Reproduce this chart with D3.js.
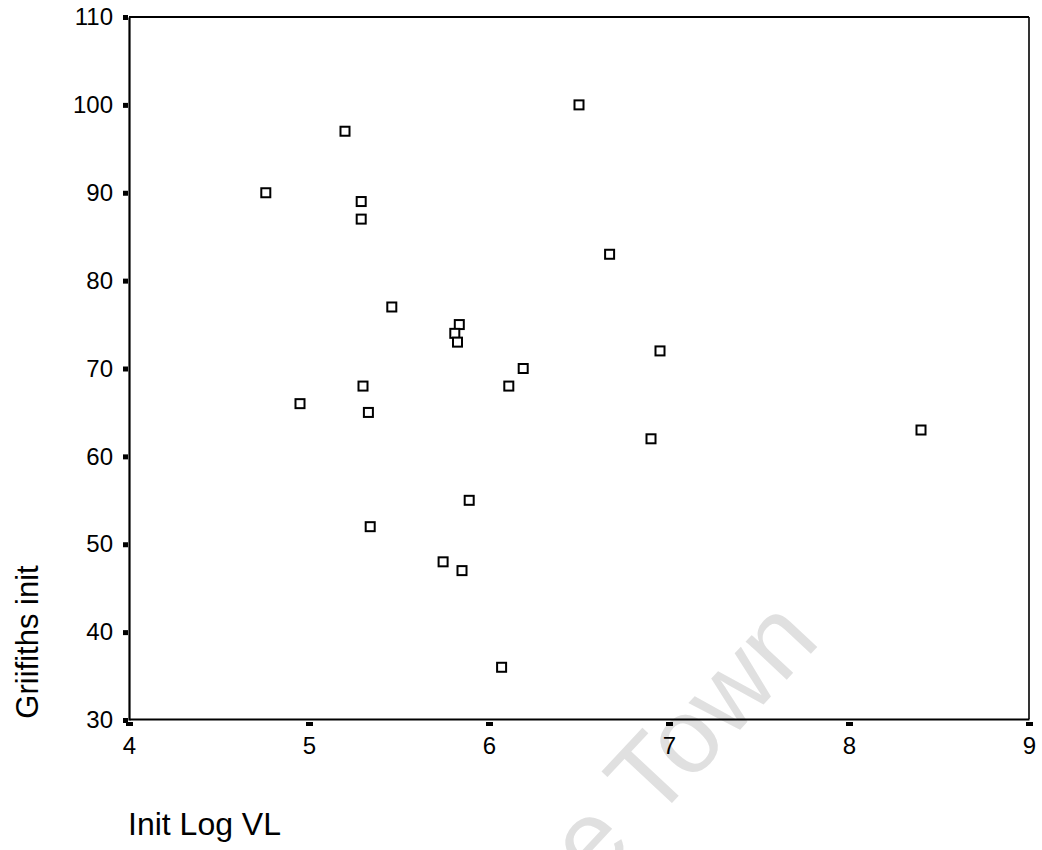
<!DOCTYPE html>
<html>
<head>
<meta charset="utf-8">
<script src="https://cdn.jsdelivr.net/npm/d3@7"></script>
<style>
  html, body { margin: 0; padding: 0; background: #fff; }
  svg { display: block; font-family: "Liberation Sans", Arial, sans-serif; }
</style>
</head>
<body>
<script>
// Data
const initLogVL = [4.76, 5.20, 5.29, 5.29, 4.95, 5.46, 5.30, 5.33, 5.34, 5.835, 5.81, 5.825, 5.89, 5.745, 5.85, 6.07, 6.11, 6.19, 6.50, 6.67, 6.90, 6.95, 8.40];
const griffithsInit = [90, 97, 89, 87, 66, 77, 68, 65, 52, 75, 74, 73, 55, 48, 47, 36, 68, 70, 100, 83, 62, 72, 63];
const xTicks = [4, 5, 6, 7, 8, 9];
const yTicks = [30, 40, 50, 60, 70, 80, 90, 100, 110];
const xLabel = "Init Log VL";
const yLabel = "Griifiths init";
const watermark = "Cape Town";

const W = 1042, H = 850;
const svg = d3.select("body").append("svg").attr("width", W).attr("height", H);

const x = d3.scaleLinear().domain([4, 9]).range([129, 1029]);
const y = d3.scaleLinear().domain([30, 110]).range([720, 17]);

// watermark
svg.append("text")
  .attr("transform", "translate(822,642) rotate(-47)")
  .attr("text-anchor", "end")
  .attr("font-size", 106)
  .attr("fill", "#e0e0e0")
  .text(watermark);

// frame (top and right)
svg.append("line").attr("x1", x(4)).attr("x2", x(9)).attr("y1", y(110)).attr("y2", y(110))
  .attr("stroke", "#000").attr("stroke-width", 2);
svg.append("line").attr("x1", x(9)).attr("x2", x(9)).attr("y1", y(110)).attr("y2", 719)
  .attr("stroke", "#000").attr("stroke-width", 1.6);

// x axis
const gx = svg.append("g").attr("transform", "translate(0,719)")
  .call(d3.axisBottom(x).tickValues(xTicks).tickFormat(d3.format("d")).tickSize(0).tickPadding(18));
gx.select(".domain").attr("stroke", "#000").attr("stroke-width", 1.8);
gx.selectAll(".tick line").attr("y1", 3).attr("y2", 7).attr("stroke", "#000").attr("stroke-width", 7);
gx.selectAll(".tick text").attr("font-size", 24).attr("fill", "#000").attr("font-family", "Liberation Sans, Arial, sans-serif");

// y axis
const gy = svg.append("g").attr("transform", "translate(129,0)")
  .call(d3.axisLeft(y).tickValues(yTicks).tickFormat(d3.format("d")).tickSize(0).tickPadding(16));
gy.select(".domain").attr("stroke", "#000").attr("stroke-width", 2.2);
gy.selectAll(".tick line").attr("x1", -1).attr("x2", -6).attr("stroke", "#000").attr("stroke-width", 5);
gy.selectAll(".tick text").attr("font-size", 24).attr("fill", "#000").attr("font-family", "Liberation Sans, Arial, sans-serif");

// points
svg.append("g").selectAll("rect")
  .data(initLogVL.map((v, i) => [v, griffithsInit[i]]))
  .join("rect")
  .attr("x", d => x(d[0]) - 4.5)
  .attr("y", d => y(d[1]) - 4.5)
  .attr("width", 9).attr("height", 9)
  .attr("fill", "#fff").attr("stroke", "#000").attr("stroke-width", 2);

// axis titles
svg.append("text").attr("x", 128).attr("y", 835)
  .attr("font-size", 32).attr("fill", "#000").text(xLabel);
svg.append("text").attr("transform", "translate(38,642) rotate(-90)")
  .attr("text-anchor", "middle")
  .attr("font-size", 31).attr("fill", "#000").text(yLabel);
</script>
</body>
</html>
